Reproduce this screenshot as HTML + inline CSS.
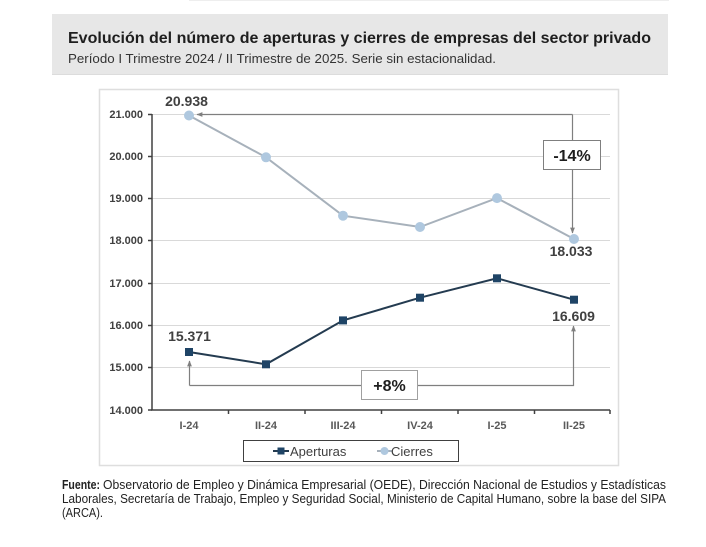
<!DOCTYPE html>
<html><head><meta charset="utf-8">
<style>
html,body{margin:0;padding:0;background:#fff;}
svg{display:block;}
text{font-family:"Liberation Sans",sans-serif;}
</style></head>
<body>
<svg width="706" height="547" viewBox="0 0 706 547" xmlns="http://www.w3.org/2000/svg">
<defs>
<marker id="ah" viewBox="0 0 10 10" refX="9" refY="5" markerWidth="5" markerHeight="5" orient="auto-start-reverse">
<path d="M0,1 L10,5 L0,9 z" fill="#7f7f7f"/>
</marker>
</defs>
<!-- faint top line -->
<line x1="189" y1="0.5" x2="669" y2="0.5" stroke="#eeeeee" stroke-width="1"/>
<!-- header -->
<rect x="52" y="14" width="616" height="60" fill="#e7e7e7"/>
<line x1="52" y1="74.5" x2="668" y2="74.5" stroke="#dcdcdc" stroke-width="1"/>
<text x="68" y="43" font-size="16" font-weight="bold" fill="#1e1e1e" textLength="583" lengthAdjust="spacingAndGlyphs">Evolución del número de aperturas y cierres de empresas del sector privado</text>
<text x="68" y="63" font-size="13" fill="#333" textLength="428" lengthAdjust="spacingAndGlyphs">Período I Trimestre 2024 / II Trimestre de 2025. Serie sin estacionalidad.</text>

<!-- chart frame -->
<rect x="99.5" y="89.5" width="519" height="376" fill="#fff" stroke="#dedede" stroke-width="1.5"/>

<!-- gridlines -->
<g stroke="#d9d9d9" stroke-width="1">
<line x1="152" y1="114.5" x2="610" y2="114.5"/>
<line x1="152" y1="156.5" x2="610" y2="156.5"/>
<line x1="152" y1="198.5" x2="610" y2="198.5"/>
<line x1="152" y1="240.5" x2="610" y2="240.5"/>
<line x1="152" y1="283.5" x2="610" y2="283.5"/>
<line x1="152" y1="325.5" x2="610" y2="325.5"/>
<line x1="152" y1="367.5" x2="610" y2="367.5"/>
</g>

<!-- axes -->
<g stroke="#404040" stroke-width="1.5">
<line x1="152" y1="114" x2="152" y2="410"/>
<line x1="151" y1="410" x2="610" y2="410"/>
<line x1="148" y1="114.5" x2="152" y2="114.5"/>
<line x1="148" y1="156.5" x2="152" y2="156.5"/>
<line x1="148" y1="198.5" x2="152" y2="198.5"/>
<line x1="148" y1="240.5" x2="152" y2="240.5"/>
<line x1="148" y1="283.5" x2="152" y2="283.5"/>
<line x1="148" y1="325.5" x2="152" y2="325.5"/>
<line x1="148" y1="367.5" x2="152" y2="367.5"/>
<line x1="148" y1="410" x2="152" y2="410"/>
<line x1="228.5" y1="410" x2="228.5" y2="414"/>
<line x1="305" y1="410" x2="305" y2="414"/>
<line x1="381.5" y1="410" x2="381.5" y2="414"/>
<line x1="458" y1="410" x2="458" y2="414"/>
<line x1="534.5" y1="410" x2="534.5" y2="414"/>
<line x1="610" y1="410" x2="610" y2="414"/>
</g>

<!-- y labels -->
<g font-size="11" font-weight="bold" fill="#404040" text-anchor="end">
<text x="143" y="118">21.000</text>
<text x="143" y="160">20.000</text>
<text x="143" y="202">19.000</text>
<text x="143" y="244">18.000</text>
<text x="143" y="287">17.000</text>
<text x="143" y="329">16.000</text>
<text x="143" y="371">15.000</text>
<text x="143" y="414">14.000</text>
</g>
<!-- x labels -->
<g font-size="11" font-weight="bold" fill="#595959" text-anchor="middle">
<text x="189" y="429">I-24</text>
<text x="266" y="429">II-24</text>
<text x="343" y="429">III-24</text>
<text x="420" y="429">IV-24</text>
<text x="497" y="429">I-25</text>
<text x="574" y="429">II-25</text>
</g>

<!-- Cierres series -->
<polyline points="189,115.5 266,157.3 343,215.7 420,227 497,198.1 574,239" fill="none" stroke="#a7b1bb" stroke-width="2"/>
<g fill="#afc8df">
<circle cx="189" cy="115.5" r="5"/>
<circle cx="266" cy="157.3" r="5"/>
<circle cx="343" cy="215.7" r="5"/>
<circle cx="420" cy="227" r="5"/>
<circle cx="497" cy="198.1" r="5"/>
<circle cx="574" cy="239" r="5"/>
</g>

<!-- Aperturas series -->
<polyline points="189,352 266,364.3 343,320.4 420,297.7 497,278.3 574,299.7" fill="none" stroke="#243b50" stroke-width="2"/>
<g fill="#1f4466">
<rect x="185" y="348" width="8" height="8"/>
<rect x="262" y="360.3" width="8" height="8"/>
<rect x="339" y="316.4" width="8" height="8"/>
<rect x="416" y="293.7" width="8" height="8"/>
<rect x="493" y="274.3" width="8" height="8"/>
<rect x="570" y="295.7" width="8" height="8"/>
</g>

<!-- arrows -->
<g fill="none" stroke="#7f7f7f" stroke-width="1.2">
<polyline points="572.5,114.5 197,114.5" marker-end="url(#ah)"/>
<polyline points="572.5,114.5 572.5,233" marker-end="url(#ah)"/>
<polyline points="189.5,385.5 189.5,361" marker-end="url(#ah)"/>
<polyline points="189.5,385.5 573.5,385.5 573.5,326" marker-end="url(#ah)"/>
</g>
<rect x="543.5" y="140.5" width="57" height="29" fill="#fff" stroke="#7f7f7f" stroke-width="1"/>
<text x="572" y="161" font-size="16" font-weight="bold" fill="#1e1e1e" text-anchor="middle">-14%</text>
<rect x="361.5" y="370.5" width="56" height="29" fill="#fff" stroke="#a0a0a0" stroke-width="1"/>
<text x="389.5" y="391" font-size="16" font-weight="bold" fill="#1e1e1e" text-anchor="middle">+8%</text>

<!-- data labels -->
<g font-size="14" font-weight="bold" fill="#404040" text-anchor="middle">
<text x="186.5" y="106">20.938</text>
<text x="571" y="256">18.033</text>
<text x="189.5" y="341">15.371</text>
<text x="573.5" y="321">16.609</text>
</g>

<!-- legend -->
<rect x="243.5" y="440.5" width="215" height="21" fill="#fff" stroke="#404040" stroke-width="1"/>
<line x1="273" y1="451" x2="289" y2="451" stroke="#243b50" stroke-width="2"/>
<rect x="277.5" y="447.5" width="7" height="7" fill="#1f4466"/>
<text x="290" y="456" font-size="13" fill="#404040">Aperturas</text>
<line x1="377" y1="451" x2="392" y2="451" stroke="#a7b1bb" stroke-width="2"/>
<circle cx="384.5" cy="451" r="4" fill="#afc8df"/>
<text x="391" y="456" font-size="13" fill="#404040">Cierres</text>

<!-- footer -->
<g font-size="12.5" fill="#222">
<text x="62" y="489" font-weight="bold" textLength="38" lengthAdjust="spacingAndGlyphs">Fuente:</text>
<text x="103" y="489" textLength="563" lengthAdjust="spacingAndGlyphs">Observatorio de Empleo y Dinámica Empresarial (OEDE), Dirección Nacional de Estudios y Estadísticas</text>
<text x="62" y="503" textLength="604" lengthAdjust="spacingAndGlyphs">Laborales, Secretaría de Trabajo, Empleo y Seguridad Social, Ministerio de Capital Humano, sobre la base del SIPA</text>
<text x="62" y="517" textLength="41" lengthAdjust="spacingAndGlyphs">(ARCA).</text>
</g>
</svg>
</body></html>
